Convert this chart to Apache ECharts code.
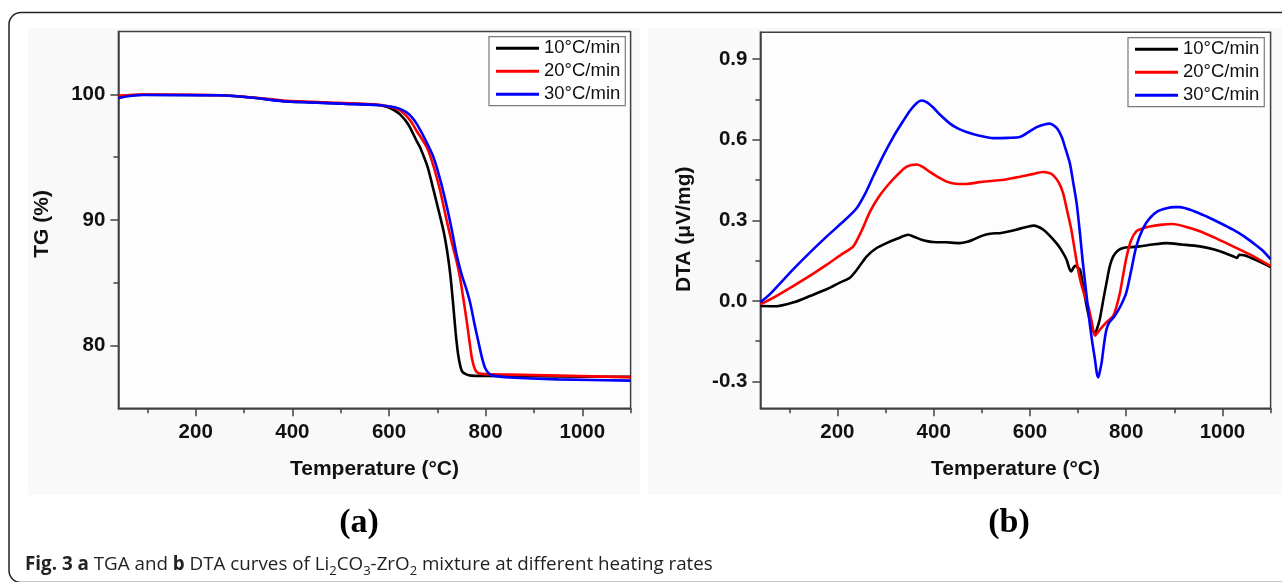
<!DOCTYPE html>
<html>
<head>
<meta charset="utf-8">
<script src="https://cdn.jsdelivr.net/npm/echarts@6/dist/echarts.min.js"></script>
<style>
html,body{margin:0;padding:0;background:#fff;}
#c{width:1282px;height:582px;}
</style>
</head>
<body>
<div id="c"></div>
<script>
// ---------- data ----------
const seriesNames = ['10°C/min', '20°C/min', '30°C/min'];
const seriesColors = ['#000000', '#ff0000', '#0000ff'];

const xMajorTicks = [200, 400, 600, 800, 1000];
const xMinorTicks = [100, 300, 500, 700, 900, 1100];
const tgMajorTicks = [80, 90, 100];
const tgMinorTicks = [85, 95];
const dtaMajorTicks = [-0.3, 0, 0.3, 0.6, 0.9];
const dtaMinorTicks = [-0.15, 0.15, 0.45, 0.75];

// TG (%) vs temperature (°C)
const tg10 = [[40,99.85],[90,99.97],[250,99.92],[320,99.73],[380,99.46],[440,99.36],[505,99.25],[575,99.15],[595,99.0],[610,98.75],[623,98.4],[640,97.6],[657,96.3],[664,95.8],[680,94.2],[692,92.4],[703,90.7],[713,89.1],[720,87.6],[727,85.6],[733,83.2],[738,81.0],[743,79.3],[748,78.3],[752,77.9],[760,77.7],[770,77.6],[800,77.58],[900,77.55],[1000,77.52],[1100,77.5]];
const tg20 = [[40,99.88],[90,99.98],[250,99.93],[320,99.75],[380,99.5],[440,99.4],[505,99.3],[575,99.18],[595,99.07],[612,98.9],[625,98.65],[637,98.25],[647,97.75],[657,97.1],[678,95.8],[692,94.3],[706,92.3],[718,90.2],[730,88.2],[740,86.7],[747,85.4],[754,83.7],[761,81.9],[767,80.2],[772,78.9],[778,78.1],[785,77.8],[800,77.72],[850,77.68],[950,77.6],[1100,77.48]];
const tg30 = [[40,99.7],[60,99.85],[90,99.95],[250,99.92],[320,99.72],[380,99.45],[440,99.35],[505,99.25],[575,99.15],[595,99.07],[612,98.97],[625,98.8],[637,98.55],[648,98.15],[658,97.6],[675,96.4],[692,95.0],[706,93.2],[720,91.0],[730,89.2],[740,87.2],[750,85.7],[760,84.5],[768,83.4],[777,81.7],[785,80.3],[792,79.1],[799,78.2],[806,77.8],[815,77.6],[850,77.45],[950,77.3],[1100,77.2]];

// DTA (µV/mg) vs temperature (°C)
const dta10 = [[40,-0.019],[74,-0.02],[110,-0.005],[143,0.018],[180,0.045],[205,0.068],[226,0.086],[240,0.115],[261,0.166],[280,0.195],[302,0.215],[325,0.232],[347,0.246],[360,0.238],[375,0.228],[399,0.219],[425,0.218],[454,0.215],[470,0.22],[482,0.228],[500,0.242],[517,0.25],[540,0.253],[558,0.259],[579,0.269],[595,0.276],[607,0.28],[618,0.275],[628,0.265],[640,0.245],[655,0.215],[665,0.19],[676,0.154],[682,0.12],[686,0.11],[690,0.122],[694,0.131],[699,0.125],[704,0.117],[709,0.07],[714,0.018],[719,-0.03],[724,-0.069],[730,-0.105],[735,-0.124],[740,-0.1],[745,-0.069],[752,0.0],[759,0.067],[766,0.13],[773,0.166],[783,0.188],[794,0.197],[810,0.2],[828,0.203],[855,0.21],[884,0.215],[915,0.21],[953,0.203],[985,0.19],[1022,0.166],[1030,0.16],[1035,0.172],[1045,0.17],[1070,0.152],[1100,0.126]];
const dta20 = [[40,-0.013],[70,0.015],[108,0.055],[140,0.09],[178,0.135],[210,0.175],[233,0.203],[250,0.26],[268,0.333],[285,0.385],[302,0.425],[325,0.47],[344,0.5],[365,0.508],[378,0.498],[392,0.48],[410,0.46],[427,0.444],[445,0.436],[468,0.435],[495,0.442],[524,0.447],[550,0.452],[579,0.462],[605,0.472],[627,0.48],[640,0.476],[648,0.468],[660,0.44],[669,0.4],[678,0.33],[686,0.265],[693,0.19],[700,0.117],[707,0.06],[714,0.018],[721,-0.019],[728,-0.075],[735,-0.13],[742,-0.115],[752,-0.093],[762,-0.075],[773,-0.056],[780,-0.02],[787,0.03],[794,0.1],[801,0.166],[810,0.225],[821,0.259],[835,0.27],[849,0.277],[870,0.283],[897,0.286],[925,0.275],[953,0.259],[990,0.23],[1022,0.203],[1060,0.17],[1100,0.129]];
const dta30 = [[40,-0.005],[60,0.025],[108,0.117],[140,0.175],[178,0.24],[215,0.3],[240,0.345],[258,0.4],[274,0.462],[295,0.54],[316,0.61],[335,0.665],[351,0.709],[365,0.737],[375,0.746],[387,0.738],[399,0.72],[415,0.69],[434,0.66],[450,0.642],[468,0.629],[495,0.615],[524,0.606],[555,0.607],[579,0.61],[600,0.632],[614,0.647],[630,0.657],[641,0.66],[655,0.645],[666,0.61],[675,0.56],[683,0.512],[690,0.44],[697,0.364],[704,0.25],[710,0.141],[717,0.03],[724,-0.081],[730,-0.16],[735,-0.217],[739,-0.27],[742,-0.285],[745,-0.265],[749,-0.229],[754,-0.16],[759,-0.106],[765,-0.08],[776,-0.056],[788,-0.02],[800,0.03],[810,0.11],[821,0.203],[835,0.27],[849,0.308],[865,0.333],[884,0.345],[900,0.349],[911,0.349],[940,0.335],[967,0.314],[995,0.29],[1022,0.265],[1045,0.24],[1064,0.215],[1085,0.185],[1100,0.155]];

// ---------- chart ----------
const axisColor = '#404040';
const labelFont = {fontSize: 20.5, fontWeight: 'bold', color: '#111', fontFamily: 'Liberation Sans'};
const nameFont = {fontSize: 21, fontWeight: 'bold', color: '#111', fontFamily: 'Liberation Sans'};

function xAxes(grid) {
  return [
    {gridIndex: grid, type: 'value', min: 40, max: 1100, position: 'bottom',
     name: 'Temperature (°C)', nameLocation: 'middle', nameGap: 50, nameTextStyle: nameFont,
     axisLine: {show: true, onZero: false, lineStyle: {color: axisColor, width: 1.5}},
     axisTick: {show: true, inside: false, customValues: xMajorTicks, length: 8, lineStyle: {color: axisColor, width: 1.5}},
     axisLabel: Object.assign({customValues: xMajorTicks, margin: 14, formatter: v => String(v)}, labelFont),
     splitLine: {show: false}},
    {gridIndex: grid, type: 'value', min: 40, max: 1100, position: 'bottom',
     axisLine: {show: false, onZero: false},
     axisTick: {show: true, inside: false, customValues: xMinorTicks, length: 5, lineStyle: {color: axisColor, width: 1.5}},
     axisLabel: {show: false}, splitLine: {show: false}}
  ];
}
function yAxes(grid, min, max, major, minor, name, fmt, pad) {
  return [
    {gridIndex: grid, type: 'value', min: min, max: max, position: 'left',
     name: name, nameLocation: 'middle', nameGap: 66,
     nameTextStyle: Object.assign({padding: pad}, nameFont),
     axisLine: {show: true, onZero: false, lineStyle: {color: axisColor, width: 1.5}},
     axisTick: {show: true, inside: false, customValues: major, length: 8, lineStyle: {color: axisColor, width: 1.5}},
     axisLabel: Object.assign({customValues: major, margin: 13, formatter: fmt}, labelFont),
     splitLine: {show: false}},
    {gridIndex: grid, type: 'value', min: min, max: max, position: 'left',
     axisLine: {show: false, onZero: false},
     axisTick: {show: true, inside: false, customValues: minor, length: 5, lineStyle: {color: axisColor, width: 1.5}},
     axisLabel: {show: false}, splitLine: {show: false}}
  ];
}

function lineSeries(name, data, color, xi, yi) {
  return {type: 'line', name: name, data: data, xAxisIndex: xi, yAxisIndex: yi,
    showSymbol: false, smooth: 0.25, lineStyle: {color: color, width: 2.6}, itemStyle: {color: color}, z: 3};
}

function legendAt(left, top) {
  return {data: seriesNames, orient: 'vertical', left: left, top: top,
    icon: 'rect', itemWidth: 43, itemHeight: 3, itemGap: 4,
    padding: [2, 5, 2, 7], borderColor: '#7a7a7a', borderWidth: 1.2,
    backgroundColor: '#fff',
    textStyle: {fontSize: 18.5, color: '#111', fontFamily: 'Liberation Sans', lineHeight: 19}};
}

const chart = echarts.init(document.getElementById('c'), null, {renderer: 'canvas'});
chart.setOption({
  backgroundColor: '#ffffff',
  animation: false,
  grid: [
    {left: 118.4, top: 31.5, width: 512.2, height: 376.8, show: true, borderColor: axisColor, borderWidth: 1.5, backgroundColor: '#fdfdfd'},
    {left: 760.4, top: 32.3, width: 510.2, height: 376, show: true, borderColor: axisColor, borderWidth: 1.5, backgroundColor: '#fdfdfd'}
  ],
  xAxis: xAxes(0).concat(xAxes(1)),
  yAxis: yAxes(0, 75, 105, tgMajorTicks, tgMinorTicks, 'TG (%)', v => String(v), [0, 8, 0, 0])
    .concat(yAxes(1, -0.4, 1.0, dtaMajorTicks, dtaMinorTicks, 'DTA (μV/mg)', v => Number(v).toFixed(1), [0, 18, 0, 0])),
  legend: [legendAt(489, 36.7), legendAt(1128, 37.7)],
  series: [
    lineSeries(seriesNames[0], tg10, seriesColors[0], 0, 0),
    lineSeries(seriesNames[1], tg20, seriesColors[1], 0, 0),
    lineSeries(seriesNames[2], tg30, seriesColors[2], 0, 0),
    lineSeries(seriesNames[0], dta10, seriesColors[0], 2, 2),
    lineSeries(seriesNames[1], dta20, seriesColors[1], 2, 2),
    lineSeries(seriesNames[2], dta30, seriesColors[2], 2, 2)
  ],
  graphic: [
    {type: 'rect', z: -10, shape: {x: 28, y: 28, width: 612, height: 467}, style: {fill: '#f9f9f9'}},
    {type: 'rect', z: -10, shape: {x: 648, y: 28, width: 634, height: 467}, style: {fill: '#f9f9f9'}},
    {type: 'rect', z: 50, shape: {x: 9, y: 12.5, width: 1300, height: 570, r: 12}, style: {fill: 'none', stroke: '#222', lineWidth: 1.5}},
    {type: 'text', z: 50, style: {text: '(a)', x: 359, y: 523, align: 'center', verticalAlign: 'middle',
      font: 'bold 34px "Liberation Serif"', fill: '#000'}},
    {type: 'text', z: 50, style: {text: '(b)', x: 1009, y: 523, align: 'center', verticalAlign: 'middle',
      font: 'bold 34px "Liberation Serif"', fill: '#000'}},
    {type: 'text', z: 50, style: {
      text: '{b|Fig. 3 a}{n| TGA and }{b|b}{n| DTA curves of Li}{s|2}{n|CO}{s|3}{n|-ZrO}{s|2}{n| mixture at different heating rates}',
      x: 25, y: 565, align: 'left', verticalAlign: 'middle',
      rich: {
        b: {fontFamily: 'Open Sans', fontSize: 18.8, fontWeight: 'bold', fill: '#222', lineHeight: 26},
        n: {fontFamily: 'Open Sans', fontSize: 18.8, fill: '#222', lineHeight: 26},
        s: {fontFamily: 'Open Sans', fontSize: 13, fill: '#222', lineHeight: 15, verticalAlign: 'bottom'}
      }}}
  ]
});
</script>
</body>
</html>
